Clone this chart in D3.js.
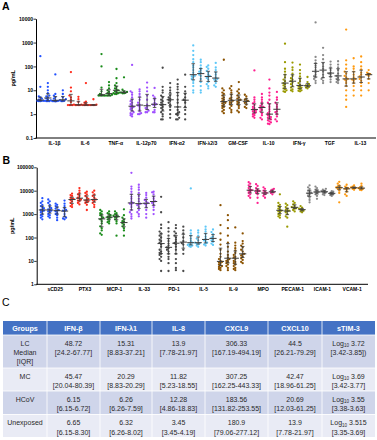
<!DOCTYPE html>
<html>
<head>
<meta charset="utf-8">
<script src="https://cdn.jsdelivr.net/npm/d3@7"></script>
<style>
  body { margin: 0; background: #fff; }
  svg { display: block; font-family: "Liberation Sans", Arial, sans-serif; }
</style>
</head>
<body>
<div id="chart"></div>
<script>

// ---------- Panel A data (pg/mL, four groups per analyte) ----------
var catsA   = ["IL-1β", "IL-6", "TNF-α", "IL-12p70", "IFN-α2", "IFN-λ2/3", "GM-CSF", "IL-10", "IFN-γ", "TGF", "IL-13"];
var colorsA = ["#2050ff", "#ff2a1a", "#1a8c1a", "#a050ff", "#4a4a4a", "#5ec8f8", "#8b5200", "#ff2090", "#9a9a00", "#8a8a8a", "#ff9a10"];
var ticksA  = [0.1, 1, 10, 100, 1000, 10000];

var A_IL1b  = [[270, 14, 5.5, 5, 4.5, 4, 3.8, 3.6, 3.6, 3.6, 3.5, 3.5],
               [20, 14, 10, 7.5, 6, 5.5, 5, 4.5, 4, 3.8, 3.6, 3.5, 3.5, 3.5],
               [46, 7, 6, 5, 4.5, 3.8, 3.6, 3.5, 3.5, 3.5, 3.4],
               [10, 7, 5, 4.2, 3.8, 3.6, 3.5, 3.5]];
var A_IL6   = [[58, 13, 9, 6, 5, 4, 3.2, 2.5, 2.4, 2.4, 2.4, 2.4],
               [5.3, 4.2, 3.2, 2.5, 2.4, 2.4, 2.4, 2.4],
               [20, 3.3, 3, 2.6, 2.4, 2.4, 2.4, 2.4, 2.4],
               [4.2, 2.5, 2.4, 2.4, 2.4, 2.4]];
var A_TNFa  = [[330, 100, 13, 9, 7, 6.5, 6, 6, 6, 6, 6],
               [22, 16, 12, 10, 8.5, 7.5, 7, 6.5, 6, 6, 6, 6],
               [78, 32, 20, 16, 14, 12, 11, 10, 9, 8.5, 8, 7.5, 7.5, 7, 7],
               [35, 10.5, 9, 8.5, 8, 7.8, 7.5, 7.5]];
var A_IL12  = [[115, 9, 8, 6.5, 5, 4, 3.5, 3, 2.6, 2.3, 2, 2, 1.8, 1.6, 1.4, 1.2, 1.1, 1, 0.9, 0.8],
               [11, 9, 7, 5.5, 4, 3, 2.5, 2.3, 2, 1.6, 1.3, 1.1, 1, 1],
               [21, 13, 9, 6, 4, 2.5, 2, 1.8, 1.6, 1.4, 1.2, 1.2],
               [12.5, 6, 5, 4, 3, 2.6, 2.5, 2.3, 1.5, 1.2, 1.2]];
var A_IFNa2 = [[88, 14, 10, 8, 6, 5, 4, 3.5, 3, 2.5, 2.4, 2, 1.8, 1.5, 1.2, 1, 0.8, 0.6, 0.6],
               [20, 13, 10, 8, 6, 5, 4.5, 4, 3.6, 3, 2.5, 2, 1.5, 1, 0.7],
               [28, 18, 14, 11, 8, 6, 4, 3, 2, 1.5, 1.2, 1.1, 1, 0.9, 0.7, 0.6, 0.6],
               [45, 14, 9, 7, 5, 4, 3.7, 3, 2, 1.5, 1, 0.6]];
var A_IFNl  = [[760, 450, 300, 200, 150, 110, 90, 70, 55, 45, 40, 38, 35, 30, 25, 20, 15, 10, 8],
               [190, 150, 110, 85, 70, 60, 55, 45, 40, 30, 22, 15, 10, 8],
               [110, 95, 80, 65, 55, 45, 40, 36, 33, 28, 22, 18, 15, 12],
               [140, 90, 70, 55, 45, 35, 30, 28, 25, 20, 16, 14]];
var A_GMCSF = [[190, 12, 10, 8, 7, 6, 5, 4.5, 4, 3.5, 3.2, 3, 2.8, 2.5, 2.2, 2, 1.8, 1.5, 1.3, 1.1],
               [15, 12, 10, 8, 6.5, 5, 4.5, 4, 3.6, 3.2, 3, 2.6, 2.2, 1.8, 1.5, 1.2],
               [22, 11, 9, 7.5, 6, 5, 4.5, 4, 3.8, 3.3, 3, 2.6, 2.2, 1.8, 1.4, 1.2],
               [6.5, 5.5, 4.5, 4, 3.6, 3.3, 3, 2.5, 2, 1.8]];
var A_IL10  = [[68, 5, 4, 3.2, 2.8, 2.4, 2, 1.8, 1.6, 1.5, 1.4, 1.3, 1.2, 1.1, 1, 0.9, 0.8, 0.7],
               [7, 5, 4, 3.2, 2.6, 2.2, 2, 1.9, 1.7, 1.5, 1.3, 1.1, 0.9, 0.7, 0.6],
               [28, 12, 8, 6, 4, 3, 2.5, 2, 1.6, 1.3, 1.1, 1, 0.9, 0.8, 0.75, 0.7, 0.65, 0.6, 0.55, 0.5, 0.45, 0.4, 0.38],
               [8.5, 5, 4, 3, 2.5, 2, 1.6, 1.3, 1.2, 1, 0.8, 0.6, 0.5]];
var A_IFNg  = [[900, 150, 80, 60, 45, 35, 28, 24, 20, 18, 16, 14, 12, 11, 10, 9, 8.5],
               [145, 90, 70, 50, 40, 32, 28, 24, 21, 18, 15, 13, 11, 10, 9],
               [120, 70, 50, 38, 30, 24, 20, 17, 15, 14, 13, 12, 11, 10, 9.5, 9],
               [36, 22, 18, 16, 15, 14, 13, 12]];
var A_TGF   = [[7000, 250, 180, 140, 110, 90, 70, 55, 45, 39, 35, 30, 25, 20],
               [600, 300, 200, 130, 100, 80, 60, 45, 35, 30, 25, 20],
               [160, 120, 90, 70, 55, 50, 45, 35, 28, 22],
               [165, 120, 90, 70, 50, 40, 33, 30, 25, 22, 20]];
var A_IL13  = [[3500, 180, 120, 80, 60, 50, 40, 35, 30, 28, 25, 20, 15, 10, 6, 4, 2],
               [220, 100, 80, 60, 45, 35, 30, 28, 25, 20, 15, 10, 6],
               [260, 150, 100, 75, 55, 45, 38, 34, 30, 25, 20, 15, 10, 6],
               [70, 55, 50, 48, 45, 40, 30, 20, 10]];
var valuesA = [A_IL1b, A_IL6, A_TNFa, A_IL12, A_IFNa2, A_IFNl, A_GMCSF, A_IL10, A_IFNg, A_TGF, A_IL13];

// ---------- Panel B data ----------
var catsB   = ["sCD25", "PTX3", "MCP-1", "IL-33", "PD-1", "IL-5", "IL-9", "MPO", "PECAM-1", "ICAM-1", "VCAM-1"];
var colorsB = ["#2050ff", "#ff2a1a", "#1a8c1a", "#a050ff", "#4a4a4a", "#5ec8f8", "#8b5200", "#ff2090", "#9a9a00", "#8a8a8a", "#ff9a10"];
var ticksB  = [1, 10, 100, 1000, 10000, 100000];

var B_sCD25 = [[4800, 3500, 3000, 2500, 2200, 2000, 1800, 1600, 1500, 1400, 1300, 1200, 1000, 900, 800, 700, 600],
               [4200, 3500, 3000, 2500, 2000, 1800, 1600, 1500, 1400, 1300, 1200, 1000, 900, 800, 700],
               [2800, 2500, 2200, 2000, 1700, 1500, 1400, 1300, 1100, 1000, 900, 700, 550],
               [3800, 2800, 2200, 1800, 1500, 1400, 1300, 1000, 800, 700, 650, 600]];
var B_PTX3  = [[7500, 6500, 6000, 5000, 4500, 4400, 4000, 3500, 3000, 2500, 2200, 2000],
               [13000, 10000, 8000, 7000, 6000, 5000, 4600, 4200, 3800, 3500, 3000, 2600],
               [9000, 8000, 7000, 6000, 5000, 4500, 4000, 3800, 3500, 3200, 3000, 2500, 1500],
               [10000, 8500, 7000, 6000, 5000, 4200, 4000, 3500, 3000, 2500, 2000]];
var B_MCP1  = [[1500, 1300, 1100, 1000, 900, 800, 700, 650, 600, 500, 400, 300, 250, 200, 150, 130],
               [1300, 1100, 1000, 900, 800, 750, 720, 650, 600, 500, 450, 400],
               [1300, 1100, 1000, 900, 850, 800, 750, 700, 600, 500, 400, 120],
               [1600, 900, 700, 600, 500, 470, 400, 350, 300, 250, 200, 120]];
var B_IL33  = [[58000, 15000, 12000, 9000, 7000, 5500, 4500, 3500, 3000, 2800, 2500, 2000, 1500, 1200, 1000, 800, 650],
               [18000, 14000, 11000, 8000, 6000, 4500, 3500, 2800, 2600, 2400, 2000, 1500, 1200, 1000, 800],
               [8000, 6500, 5000, 4000, 3500, 3000, 2800, 2500, 2000, 1500, 1000, 700],
               [9000, 8500, 7000, 5500, 4500, 3500, 3400, 3000, 2500, 2000, 1500, 1000]];
var B_PD1   = [[5500, 1200, 350, 250, 180, 150, 120, 100, 80, 70, 60, 50, 40, 30, 25, 22, 20, 18, 15, 12, 10, 3.7],
               [450, 250, 180, 120, 90, 70, 55, 45, 38, 35, 30, 25, 20, 15, 12, 8, 3.7],
               [340, 250, 180, 150, 120, 100, 80, 65, 57, 50, 40, 30, 20, 12, 8, 5, 4],
               [290, 200, 150, 100, 70, 57, 50, 30, 20, 3.7]];
var B_IL5   = [[12500, 200, 150, 120, 90, 70, 60, 52, 50, 48, 45, 42, 40],
               [200, 160, 120, 90, 75, 60, 57, 55, 50, 45, 40],
               [290, 220, 180, 140, 110, 90, 75, 70, 60, 55, 50, 45],
               [220, 170, 140, 110, 98, 85, 75, 65, 55, 48]];
var B_IL9   = [[2400, 340, 150, 80, 50, 30, 20, 15, 12, 10, 9, 8.7, 8, 7, 6.5, 6, 5.5, 5, 4.5, 4],
               [900, 550, 250, 120, 60, 40, 25, 18, 14, 12, 11, 10, 9, 8, 7, 6, 5, 4],
               [270, 60, 45, 35, 28, 22, 18, 15, 14, 12, 10, 9, 8, 7, 6, 5, 4.5, 4],
               [150, 70, 55, 45, 38, 30, 25, 20, 19, 17, 15, 13, 11, 9, 8]];
var B_MPO   = [[23000, 20000, 17000, 15000, 13000, 11000, 10500, 10000, 9000, 8000, 7000, 6000, 5000],
               [19000, 16000, 13000, 11000, 10000, 9700, 9000, 8000, 7000, 5000, 3000],
               [14000, 12000, 10000, 9000, 8000, 7700, 7000, 6000, 5000],
               [12000, 11000, 10000, 9000, 8500, 8000, 7000]];
var B_PECAM = [[7000, 3000, 2500, 2200, 1900, 1700, 1500, 1400, 1300, 1200, 1000, 900, 800, 700],
               [2800, 2400, 2000, 1700, 1500, 1400, 1300, 1200, 1000, 800, 700, 290],
               [3500, 3000, 2600, 2200, 2000, 1900, 1800, 1700, 1500, 1300],
               [2200, 1900, 1700, 1600, 1500, 1400, 1300, 1200]];
var B_ICAM  = [[17000, 14000, 12000, 10000, 9000, 8200, 7500, 7000, 6000, 5000, 4000, 3200],
               [15000, 13000, 11000, 10000, 9000, 8600, 8000, 7000, 6000, 4500],
               [12000, 11000, 10000, 9500, 9000, 8500, 8000, 7000, 6500],
               [9500, 9000, 8000, 7700, 7000, 6500, 6000]];
var B_VCAM  = [[24000, 20000, 17000, 15000, 14000, 13400, 13000, 12000, 10000, 8000, 3200],
               [18000, 15000, 13500, 12800, 12000, 11000, 9000, 7000, 6000],
               [17000, 15000, 14000, 13400, 13000, 12000, 11000],
               [20000, 16000, 14000, 13000, 12800, 12000, 11000, 10500]];
var valuesB = [B_sCD25, B_PTX3, B_MCP1, B_IL33, B_PD1, B_IL5, B_IL9, B_MPO, B_PECAM, B_ICAM, B_VCAM];

// ---------- Panel C table ----------
var tableHead  = ["Groups", "IFN-β", "IFN-λ1", "IL-8", "CXCL9", "CXCL10", "sTIM-3"];
var groupNames = [["LC", "Median", "[IQR]"], ["MC"], ["HCoV"], ["Unexposed"]];
var colIFNb    = [["48.72", "[24.2-67.77]"], ["45.47", "[20.04-80.39]"], ["6.15", "[6.15-6.72]"], ["6.65", "[6.15-8.30]"]];
var colIFNl1   = [["15.31", "[8.83-37.21]"], ["20.29", "[8.83-20.29]"], ["6.26", "[6.26-7.59]"], ["6.32", "[6.26-8.02]"]];
var colIL8     = [["13.9", "[7.78-21.97]"], ["11.82", "[5.23-18.55]"], ["12.28", "[4.86-18.83]"], ["3.45", "[3.45-4.19]"]];
var colCXCL9   = [["306.33", "[167.19-494.19]"], ["307.25", "[162.25-443.33]"], ["183.56", "[131.82-253.55]"], ["180.9", "[79.06-277.12]"]];
var colCXCL10  = [["44.5", "[26.21-79.29]"], ["42.47", "[18.96-61.25]"], ["20.69", "[12.03-61.25]"], ["13.9", "[7.78-21.97]"]];
var colSTIM3   = [["3.72", "[3.42-3.85])"], ["3.69", "[3.42-3.77]"], ["3.55", "[3.38-3.63]"], ["3.515", "[3.35-3.69]"]];

var svg = d3.select("#chart").append("svg")
  .attr("width", 377)
  .attr("height", 440);

/*
 * DotPlotVis - grouped scatter (median + IQR) on a log axis
 */
DotPlotVis = function(_svg, _cats, _colors, _values, _opts){
  this.svg    = _svg;
  this.cats   = _cats;
  this.colors = _colors;
  this.values = _values;
  this.opts   = _opts;
  this.initVis();
}

DotPlotVis.prototype.initVis = function(){
  var vis = this, o = vis.opts;

  vis.g = vis.svg.append("g");

  // Scales
  vis.y = d3.scaleLog()
    .domain(o.domain)
    .range([o.bottom, o.top]);

  vis.x = d3.scaleBand()
    .domain(vis.cats)
    .range([o.bandLeft, o.bandRight]);

  vis.xSub = d3.scaleBand()
    .domain([0, 1, 2, 3])
    .range([-o.subHalf, o.subHalf]);

  // Y axis
  vis.yAxis = d3.axisLeft(vis.y)
    .tickValues(o.ticks)
    .tickFormat(function(d){ return d < 1 ? "0.1" : d3.format("d")(d); })
    .tickSize(2.5)
    .tickSizeOuter(0);

  var ya = vis.g.append("g")
    .attr("class", "axis y-axis")
    .attr("transform", "translate(" + o.axisX + ",0)")
    .call(vis.yAxis);
  ya.select(".domain").attr("stroke", "#000").attr("stroke-width", 1);
  ya.selectAll(".tick line").attr("stroke", "#000").attr("stroke-width", 0.8);
  ya.selectAll(".tick text")
    .attr("x", -3)
    .attr("font-size", 5)
    .attr("font-weight", "bold")
    .attr("fill", "#000");

  // X axis line
  vis.g.append("line")
    .attr("x1", o.axisX - 0.5).attr("x2", o.axisRight)
    .attr("y1", o.bottom).attr("y2", o.bottom)
    .attr("stroke", "#000")
    .attr("stroke-width", 1);

  vis.g.selectAll(".cat-label")
    .data(vis.cats)
    .enter().append("text")
    .attr("class", "cat-label")
    .attr("x", function(d){ return vis.x(d) + vis.x.bandwidth() / 2 + o.labelShift; })
    .attr("y", o.bottom + 7)
    .attr("text-anchor", "middle")
    .attr("font-size", 5)
    .attr("font-weight", "bold")
    .text(function(d){ return d; });

  vis.g.append("text")
    .attr("text-anchor", "middle")
    .attr("transform", "translate(" + o.titleX + "," + ((o.top + o.bottom) / 2) + ")rotate(-90)")
    .attr("font-size", 5.5)
    .attr("font-weight", "bold")
    .text("pg/mL");

  vis.g.append("text")
    .attr("x", o.letterX).attr("y", o.letterY)
    .attr("font-size", 10.5)
    .attr("font-weight", "bold")
    .text(o.letter);

  vis.updateVis();
}

// simple beeswarm so overlapping dots spread sideways
function swarm(ys, step){
  var placed = [];
  var offs = [0, -step, step, -2 * step, 2 * step];
  return ys.map(function(y, i){
    var best = null;
    for (var m = 0; m < offs.length; m++) {
      var ok = placed.every(function(p){
        return Math.abs(p.y - y) >= 2 || Math.abs(p.x - offs[m]) >= step * 0.95;
      });
      if (ok) { best = offs[m]; break; }
    }
    if (best === null) best = offs[i % offs.length];
    placed.push({x: best, y: y});
    return best;
  });
}

DotPlotVis.prototype.updateVis = function(){
  var vis = this;

  vis.cats.forEach(function(cat, ci){
    var color = vis.colors[ci];
    vis.values[ci].forEach(function(vals, gi){
      var cx = vis.x(cat) + vis.x.bandwidth() / 2 + vis.xSub(gi) + vis.xSub.bandwidth() / 2;
      var sorted = vals.slice().sort(d3.ascending);
      var ys = sorted.map(function(v){ return vis.y(v); });
      var dx = swarm(ys, 1.5);

      vis.g.append("g").selectAll("circle")
        .data(sorted)
        .enter().append("circle")
        .attr("cx", function(d, i){ return cx + dx[i]; })
        .attr("cy", function(d){ return vis.y(d); })
        .attr("r", 1.15)
        .attr("fill", color);

      var q1 = d3.quantile(sorted, 0.25),
          med = d3.quantile(sorted, 0.5),
          q3 = d3.quantile(sorted, 0.75);

      var bar = vis.g.append("g")
        .attr("stroke", "#3c3c3c")
        .attr("stroke-width", 0.8);
      bar.append("line")
        .attr("x1", cx).attr("x2", cx)
        .attr("y1", vis.y(q1)).attr("y2", vis.y(q3));
      bar.append("line")
        .attr("x1", cx - 1.8).attr("x2", cx + 1.8)
        .attr("y1", vis.y(q1)).attr("y2", vis.y(q1));
      bar.append("line")
        .attr("x1", cx - 1.8).attr("x2", cx + 1.8)
        .attr("y1", vis.y(q3)).attr("y2", vis.y(q3));
      bar.append("line")
        .attr("x1", cx - 3.6).attr("x2", cx + 3.6)
        .attr("y1", vis.y(med)).attr("y2", vis.y(med))
        .attr("stroke-width", 1);
    });
  });
}

new DotPlotVis(svg, catsA, colorsA, valuesA, {
  domain: [0.1, 10000], ticks: ticksA, top: 18.7, bottom: 138,
  axisX: 36, axisRight: 376, bandLeft: 36.3, bandRight: 372.7, subHalf: 15,
  labelShift: 3, titleX: 14.5, letter: "A", letterX: 2, letterY: 10
});

new DotPlotVis(svg, catsB, colorsB, valuesB, {
  domain: [1, 100000], ticks: ticksB, top: 167.3, bottom: 284.3,
  axisX: 36.7, axisRight: 368, bandLeft: 38.6, bandRight: 365.2, subHalf: 14.8,
  labelShift: 1.8, titleX: 14, letter: "B", letterX: 2.5, letterY: 163.5
});

// ---------- Table (panel C) ----------
var colX  = [3, 47, 100, 152, 205, 268, 322, 375];
var rowY  = [321, 335, 368, 391, 414.5, 437];
var rowFill = ["#cfd5ea", "#e9ebf5", "#cfd5ea", "#e9ebf5"];
var dataCols = [colIFNb, colIFNl1, colIL8, colCXCL9, colCXCL10, colSTIM3];

svg.append("text")
  .attr("x", 2).attr("y", 306)
  .attr("font-size", 10.5)
  .text("C");

var tbl = svg.append("g").attr("font-size", 7).attr("fill", "#2a2a2a");

// header
tableHead.forEach(function(h, c){
  tbl.append("rect")
    .attr("x", colX[c]).attr("y", rowY[0])
    .attr("width", colX[c + 1] - colX[c]).attr("height", rowY[1] - rowY[0])
    .attr("fill", "#4472c4");
  tbl.append("text")
    .attr("x", (colX[c] + colX[c + 1]) / 2).attr("y", rowY[0] + 9.6)
    .attr("text-anchor", "middle")
    .attr("font-weight", "bold")
    .attr("font-size", 7.2)
    .attr("fill", "#fff")
    .text(h);
});

// body rows
groupNames.forEach(function(names, r){
  var top = rowY[r + 1], bot = rowY[r + 2];
  for (var c = 0; c < 7; c++) {
    tbl.append("rect")
      .attr("x", colX[c]).attr("y", top)
      .attr("width", colX[c + 1] - colX[c]).attr("height", bot - top)
      .attr("fill", rowFill[r]);
  }
  var cx0 = (colX[0] + colX[1]) / 2;
  names.forEach(function(n, k){
    tbl.append("text")
      .attr("x", cx0).attr("y", top + 10.6 + k * 9.4)
      .attr("text-anchor", "middle")
      .text(n);
  });
  dataCols.forEach(function(col, c){
    var cx = (colX[c + 1] + colX[c + 2]) / 2;
    var t1 = tbl.append("text")
      .attr("x", cx).attr("y", top + 10.6)
      .attr("text-anchor", "middle");
    if (c === 5) {
      t1.append("tspan").text("Log");
      t1.append("tspan").attr("font-size", 4.6).attr("dy", 1.7).text("10");
      t1.append("tspan").attr("dy", -1.7).text(" " + col[r][0]);
    } else {
      t1.text(col[r][0]);
    }
    tbl.append("text")
      .attr("x", cx).attr("y", top + 20)
      .attr("text-anchor", "middle")
      .text(col[r][1]);
  });
});

// white grid lines
colX.slice(1, -1).forEach(function(x){
  tbl.append("line")
    .attr("x1", x).attr("x2", x).attr("y1", rowY[0]).attr("y2", rowY[5])
    .attr("stroke", "#fff").attr("stroke-width", 0.8);
});
rowY.slice(1, -1).forEach(function(y){
  tbl.append("line")
    .attr("x1", colX[0]).attr("x2", colX[7]).attr("y1", y).attr("y2", y)
    .attr("stroke", "#fff").attr("stroke-width", 0.8);
});

</script>
</body>
</html>
